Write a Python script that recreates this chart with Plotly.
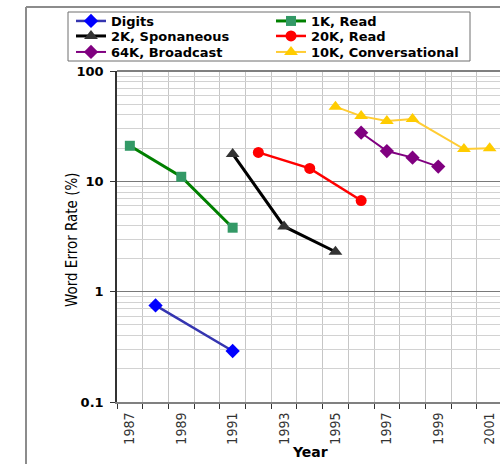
import plotly.graph_objects as go

# ---- data ----
years_digits = [1988, 1991]
wer_digits = [0.75, 0.29]
years_1k = [1987, 1989, 1991]
wer_1k = [21, 11, 3.8]
years_2k = [1991, 1993, 1995]
wer_2k = [17.7, 3.9, 2.3]
years_20k = [1992, 1994, 1996]
wer_20k = [18.3, 13.1, 6.7]
years_64k = [1996, 1997, 1998, 1999]
wer_64k = [27.6, 18.8, 16.4, 13.6]
years_10k = [1995, 1996, 1997, 1998, 2000, 2001]
wer_10k = [47.5, 39, 35.2, 36.7, 19.6, 19.9]

first_year, last_year = 1987, 2001
x_tick_years = [1987, 1989, 1991, 1993, 1995, 1997, 1999, 2001]
x_tick_labels = ["1987", "1989", "1991", "1993", "1995", "1997", "1999", "2001"]
y_tick_vals = [0.1, 1, 10, 100]
y_tick_labels = ["0.1", "1", "10", "100"]

# ---- layout geometry (pixels) ----
W, H = 500, 464
L, R, T, B = 117, 0, 71, 62
PW, PH = W - L - R, H - T - B
PX_PER_YEAR = 25.7

def px_x(px):
    return (px - L) / PW

def px_y(py):
    return (H - B - py) / PH

narrow = "Liberation Sans Narrow, Arial Narrow, DejaVu Sans Condensed, Arial, sans-serif"
boldf = "DejaVu Sans, Verdana, Arial, sans-serif"

fig = go.Figure()

def add(name, xs, ys, lcolor, lwidth, mcolor, symbol, msize, legend):
    fig.add_trace(go.Scatter(
        x=xs, y=ys, name=name, mode="lines+markers", legend=legend,
        line=dict(color=lcolor, width=lwidth),
        marker=dict(color=mcolor, symbol=symbol, size=msize, line=dict(width=0)),
    ))

add("Digits", years_digits, wer_digits, "#3535b0", 2.5, "#0000ff", "diamond", 11, "legend")
add("1K, Read", years_1k, wer_1k, "#008000", 3, "#339966", "square", 10, "legend")
add("2K, Sponaneous", years_2k, wer_2k, "#000000", 3, "#333333", "triangle-up", 12, "legend2")
add("20K, Read", years_20k, wer_20k, "#ff0000", 2.5, "#ff0000", "circle", 11, "legend2")
add("64K, Broadcast", years_64k, wer_64k, "#800080", 2, "#800080", "diamond", 11, "legend3")
add("10K, Conversational", years_10k, wer_10k, "#ffcc33", 2, "#ffcc00", "triangle-up", 12, "legend3")

x_lo = first_year - 0.5
x_hi = x_lo + PW / PX_PER_YEAR
boundaries = [y + 0.5 for y in range(first_year - 1, last_year + 1)]

minor_y = [m * 10 ** e for e in range(-1, 2) for m in range(2, 10)]

def legend_row(row_center_px):
    return dict(
        orientation="h",
        x=px_x(71), xanchor="left",
        y=px_y(row_center_px - 15), yanchor="top",
        bgcolor="rgba(0,0,0,0)", borderwidth=0,
        font=dict(family=boldf, size=13, color="black", weight="bold"),
        entrywidth=155, entrywidthmode="pixels",
        itemwidth=30, tracegroupgap=0,
    )

fig.update_layout(
    width=W, height=H,
    margin=dict(l=L, r=R, t=T, b=B, pad=0, autoexpand=False),
    paper_bgcolor="white", plot_bgcolor="white",
    showlegend=True,
    legend=legend_row(21),
    legend2=legend_row(36),
    legend3=legend_row(52),
    xaxis=dict(
        range=[x_lo, x_hi],
        tickmode="array", tickvals=x_tick_years, ticktext=x_tick_labels,
        tickangle=-90,
        ticks="outside", ticklen=3, tickcolor="rgba(0,0,0,0)",
        tickfont=dict(family=narrow, size=14, color="#333333", weight="normal"),
        showgrid=False, zeroline=False,
        showline=True, linecolor="#808080", linewidth=2,
        minor=dict(tickmode="array", tickvals=boundaries, ticks="outside",
                   ticklen=5, tickcolor="#333333", tickwidth=1,
                   showgrid=True, gridcolor="#c6c6c6", gridwidth=1),
        fixedrange=True,
    ),
    yaxis=dict(
        type="log", range=[-1, 2],
        tickmode="array", tickvals=y_tick_vals, ticktext=y_tick_labels,
        ticks="outside", ticklen=5, tickcolor="#333333",
        tickfont=dict(family=boldf, size=13, color="black", weight="bold"),
        ticklabelstandoff=4,
        showgrid=True, gridcolor="#7a7a7a", gridwidth=1,
        showline=True, linecolor="#333333", linewidth=1.5,
        mirror=False, zeroline=False,
        minor=dict(tickmode="array", tickvals=minor_y, ticks="",
                   showgrid=True, gridcolor="#d2d2d2", gridwidth=1),
        fixedrange=True,
    ),
    annotations=[
        dict(text="Word Error Rate (%)", xref="paper", yref="paper",
             x=px_x(72), y=px_y(240), textangle=-90, showarrow=False,
             xanchor="center", yanchor="middle",
             font=dict(family=narrow, size=15, color="black")),
        dict(text="<b>Year</b>", xref="paper", yref="paper",
             x=px_x(310), y=px_y(452), showarrow=False,
             xanchor="center", yanchor="middle",
             font=dict(family=boldf, size=14, color="black")),
    ],
    shapes=[
        dict(type="line", xref="paper", yref="paper",
             x0=px_x(26), x1=px_x(26), y0=px_y(7), y1=px_y(H + 2),
             line=dict(color="#8c8c8c", width=2)),
        dict(type="line", xref="paper", yref="paper",
             x0=px_x(26), x1=px_x(W + 2), y0=px_y(7), y1=px_y(7),
             line=dict(color="#8c8c8c", width=2)),
        dict(type="line", xref="paper", yref="paper",
             x0=0, x1=1, y0=1, y1=1,
             line=dict(color="#808080", width=2)),
        dict(type="rect", xref="paper", yref="paper",
             x0=px_x(68), x1=px_x(470), y0=px_y(12), y1=px_y(61),
             line=dict(color="#6e6e6e", width=1), fillcolor="white", layer="below"),
    ],
)

fig.write_html(
    "out.html",
    config={"displayModeBar": False},
    post_script="document.body.style.margin='0';document.body.style.overflow='hidden';",
)
